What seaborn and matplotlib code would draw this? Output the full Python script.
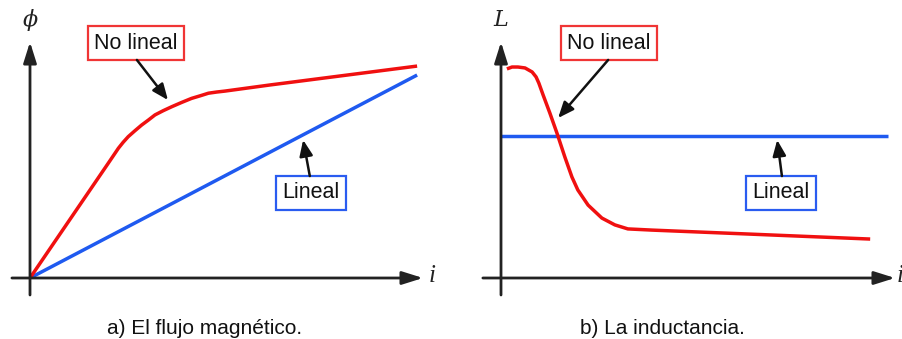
import matplotlib
matplotlib.use('Agg')
import matplotlib.pyplot as plt
import seaborn as sns

sns.set_style('white')
plt.rcParams['font.family'] = ['Liberation Sans', 'DejaVu Sans']

# a) flujo magnetico: corriente i vs flujo phi (unidades arbitrarias)
flux_nl_i = [0, 1.99, 2.12, 2.25, 2.37, 2.50, 2.67, 2.84, 3.01, 3.18, 3.39, 3.61,
             3.86, 4.11, 4.33, 4.54, 4.75, 4.96, 6.11, 9.85]
flux_nl_phi = [0, 4.86, 5.18, 5.50, 5.75, 5.99, 6.24, 6.48, 6.69, 6.91, 7.09, 7.26,
               7.44, 7.61, 7.72, 7.83, 7.88, 7.92, 8.18, 8.98]
flux_l_i = [0, 9.85]
flux_l_phi = [0, 8.60]

# b) inductancia: corriente i vs L
ind_nl_i = [0.15, 0.28, 0.43, 0.61, 0.79, 0.89, 0.96, 1.07, 1.24, 1.42, 1.62, 1.80,
            1.95, 2.21, 2.56, 2.89, 3.22, 3.83, 6.32, 9.37]
ind_nl_L = [8.86, 8.94, 8.94, 8.90, 8.73, 8.52, 8.26, 7.75, 6.99, 6.14, 5.13, 4.28,
            3.73, 3.09, 2.54, 2.25, 2.08, 2.03, 1.86, 1.65]
ind_l_i = [0, 9.82]
ind_l_L = [6.02, 6.02]

red = '#f01010'
blue = '#1f5af0'
box_red = '#f03535'
box_blue = '#2a5cf0'
axis_col = '#222222'

fig = plt.figure(figsize=(9.03, 3.39), dpi=100)
ax1 = fig.add_axes([30 / 903, 61 / 339, 393 / 903, 236 / 339])
ax2 = fig.add_axes([501 / 903, 61 / 339, 394 / 903, 236 / 339])


def draw_axes(ax, ylab, ix):
    ax.set_xlim(0, 10)
    ax.set_ylim(0, 10)
    ax.axis('off')
    arrow = dict(arrowstyle='-|>,head_length=0.7,head_width=0.22', color=axis_col,
                 lw=2.0, shrinkA=0, shrinkB=0, mutation_scale=18)
    ax.annotate('', xy=(10, 0), xytext=(-0.46, 0), arrowprops=arrow,
                annotation_clip=False)
    ax.annotate('', xy=(0, 10), xytext=(0, -0.72), arrowprops=arrow,
                annotation_clip=False)
    ax.text(0, 10.93, ylab, ha='center', va='center', fontsize=16,
            family='DejaVu Serif', style='italic', color='#222', clip_on=False)
    ax.text(ix, 0.1, 'i', ha='center', va='center', fontsize=18,
            family='Liberation Serif', style='italic', color='#222', clip_on=False)


def curve(ax, x, y, col):
    sns.lineplot(x=x, y=y, ax=ax, color=col, lw=2.5, sort=False, estimator=None,
                 solid_joinstyle='round', solid_capstyle='butt')


def label(ax, txt, pos, tip, start, ec):
    ax.text(pos[0], pos[1], txt, ha='center', va='center', fontsize=15.5,
            color='#111', clip_on=False,
            bbox=dict(boxstyle='square,pad=0.3', fc='white', ec=ec, lw=1.6))
    ax.annotate('', xy=tip, xytext=start, annotation_clip=False,
                arrowprops=dict(arrowstyle='-|>,head_length=0.6,head_width=0.25',
                                color='#111', lw=1.8, shrinkA=0, shrinkB=0,
                                mutation_scale=16))


draw_axes(ax1, '\u03d5', 10.23)
curve(ax1, flux_l_i, flux_l_phi, blue)
curve(ax1, flux_nl_i, flux_nl_phi, red)
label(ax1, 'No lineal', (2.70, 9.94), (3.51, 7.54), (2.72, 9.24), box_red)
label(ax1, 'Lineal', (7.14, 3.62), (6.95, 5.85), (7.12, 4.32), box_blue)

draw_axes(ax2, 'L', 10.12)
curve(ax2, ind_l_i, ind_l_L, blue)
curve(ax2, ind_nl_i, ind_nl_L, red)
label(ax2, 'No lineal', (2.74, 9.94), (1.45, 6.78), (2.72, 9.24), box_red)
label(ax2, 'Lineal', (7.11, 3.62), (7.01, 5.85), (7.13, 4.32), box_blue)

fig.text(205 / 903, 1 - 328 / 339, 'a) El flujo magnético.', ha='center',
         va='center', fontsize=15, color='#111')
fig.text(662 / 903, 1 - 328 / 339, 'b) La inductancia.', ha='center',
         va='center', fontsize=15, color='#111')

fig.savefig('out.png', dpi=100)
